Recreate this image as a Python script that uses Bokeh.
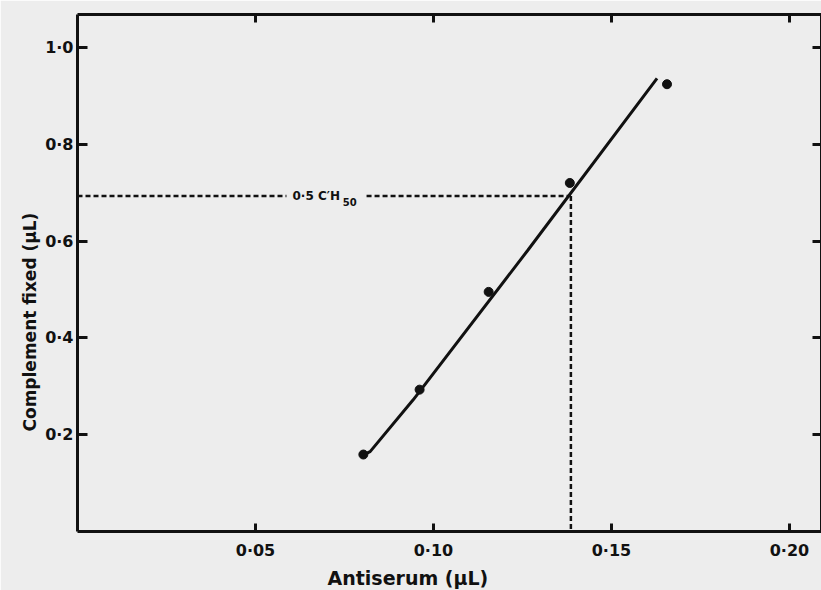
import math
from bokeh.plotting import figure
from bokeh.models import LinearAxis, FixedTicker, CustomJSTickFormatter, Label, Range1d, Title
from bokeh.embed import file_html
from bokeh.resources import INLINE

# ---- data ----
antiserum = [0.0803, 0.0961, 0.1155, 0.1383, 0.1656]        # µL
complement = [0.159, 0.293, 0.495, 0.720, 0.924]             # µL fixed
fit_x = [0.0801, 0.0822, 0.0943, 0.1265, 0.1628]
fit_y = [0.158, 0.165, 0.272, 0.581, 0.936]
ch50_x = 0.1386     # antiserum giving 0.5 C'H50
ch50_y = 0.693      # complement fixed at 0.5 C'H50
x_ticks = [0.05, 0.10, 0.15, 0.20]
y_ticks = [0.2, 0.4, 0.6, 0.8, 1.0]
x_title = "Antiserum (µL)"
y_title = "Complement fixed (µL)"
ref_label = "0·5 C′H"
ref_sub = "50"

BG = "#ededed"
INK = "#111111"
FONT = "DejaVu Sans"

p = figure(width=821, height=590, output_backend="svg", toolbar_location=None,
           x_range=Range1d(0, 0.209), y_range=Range1d(0, 1.068),
           x_axis_type=None, y_axis_type=None,
           min_border_left=77, min_border_top=14, min_border_right=0, min_border_bottom=58)
p.background_fill_color = BG
p.border_fill_color = BG
p.outline_line_color = None
p.xgrid.grid_line_color = None
p.ygrid.grid_line_color = None

xfmt = CustomJSTickFormatter(code="return tick.toFixed(2).replace('.', '\u00b7');")
yfmt = CustomJSTickFormatter(code="return tick.toFixed(1).replace('.', '\u00b7');")
blank = CustomJSTickFormatter(code="return '';")

def style(ax, tick_len):
    ax.axis_line_color = INK
    ax.axis_line_width = 3
    ax.major_tick_line_color = INK
    ax.major_tick_line_width = 3
    ax.major_tick_in = tick_len
    ax.major_tick_out = 0
    ax.minor_tick_line_color = None
    ax.major_label_text_font = FONT
    ax.major_label_text_font_style = "bold"
    ax.major_label_text_color = INK
    ax.major_label_text_font_size = "16px"

bottom = LinearAxis(ticker=FixedTicker(ticks=x_ticks), formatter=xfmt)
style(bottom, 8)
bottom.major_label_standoff = 9
left = LinearAxis(ticker=FixedTicker(ticks=y_ticks), formatter=yfmt)
style(left, 10)
left.major_label_standoff = 4
top = LinearAxis(ticker=FixedTicker(ticks=x_ticks), formatter=blank)
style(top, 8)
top.major_label_standoff = 0
top.major_label_text_font_size = "1px"
right = LinearAxis(ticker=FixedTicker(ticks=y_ticks), formatter=blank)
style(right, 9)
right.major_label_standoff = 0
right.major_label_text_font_size = "1px"
p.add_layout(bottom, "below")
p.add_layout(left, "left")
p.add_layout(top, "above")
p.add_layout(right, "right")

# axis titles (offset to the reference's positions)
p.add_layout(Title(text=x_title, align="left", offset=250, standoff=4,
                   text_font=FONT, text_font_style="bold", text_font_size="19px",
                   text_color=INK), "below")
p.add_layout(Title(text=y_title, align="left", offset=100, standoff=6,
                   text_font=FONT, text_font_style="bold", text_font_size="17px",
                   text_color=INK), "left")

# dashed reference lines (with a gap for the label)
gap_l, gap_r = 0.0587, 0.0812
p.line([0, gap_l], [ch50_y, ch50_y], line_color=INK, line_width=2.5, line_dash="5 3")
p.line([gap_r, ch50_x], [ch50_y, ch50_y], line_color=INK, line_width=2.5, line_dash="5 3")
p.line([ch50_x, ch50_x], [ch50_y, 0], line_color=INK, line_width=2.5, line_dash="5 3")

# fitted line and data points
p.line(fit_x, fit_y, line_color=INK, line_width=3)
p.scatter(antiserum, complement, size=9, fill_color=INK, line_color=INK)

p.add_layout(Label(x=0.0604, y=ch50_y, text=ref_label, text_font=FONT, text_font_style="bold",
                   text_font_size="12px", text_color=INK, text_baseline="middle"))
p.add_layout(Label(x=0.0745, y=ch50_y - 0.012, text=ref_sub, text_font=FONT, text_font_style="bold",
                   text_font_size="10px", text_color=INK, text_baseline="middle"))

open("out.html", "w").write(file_html(p, INLINE))
